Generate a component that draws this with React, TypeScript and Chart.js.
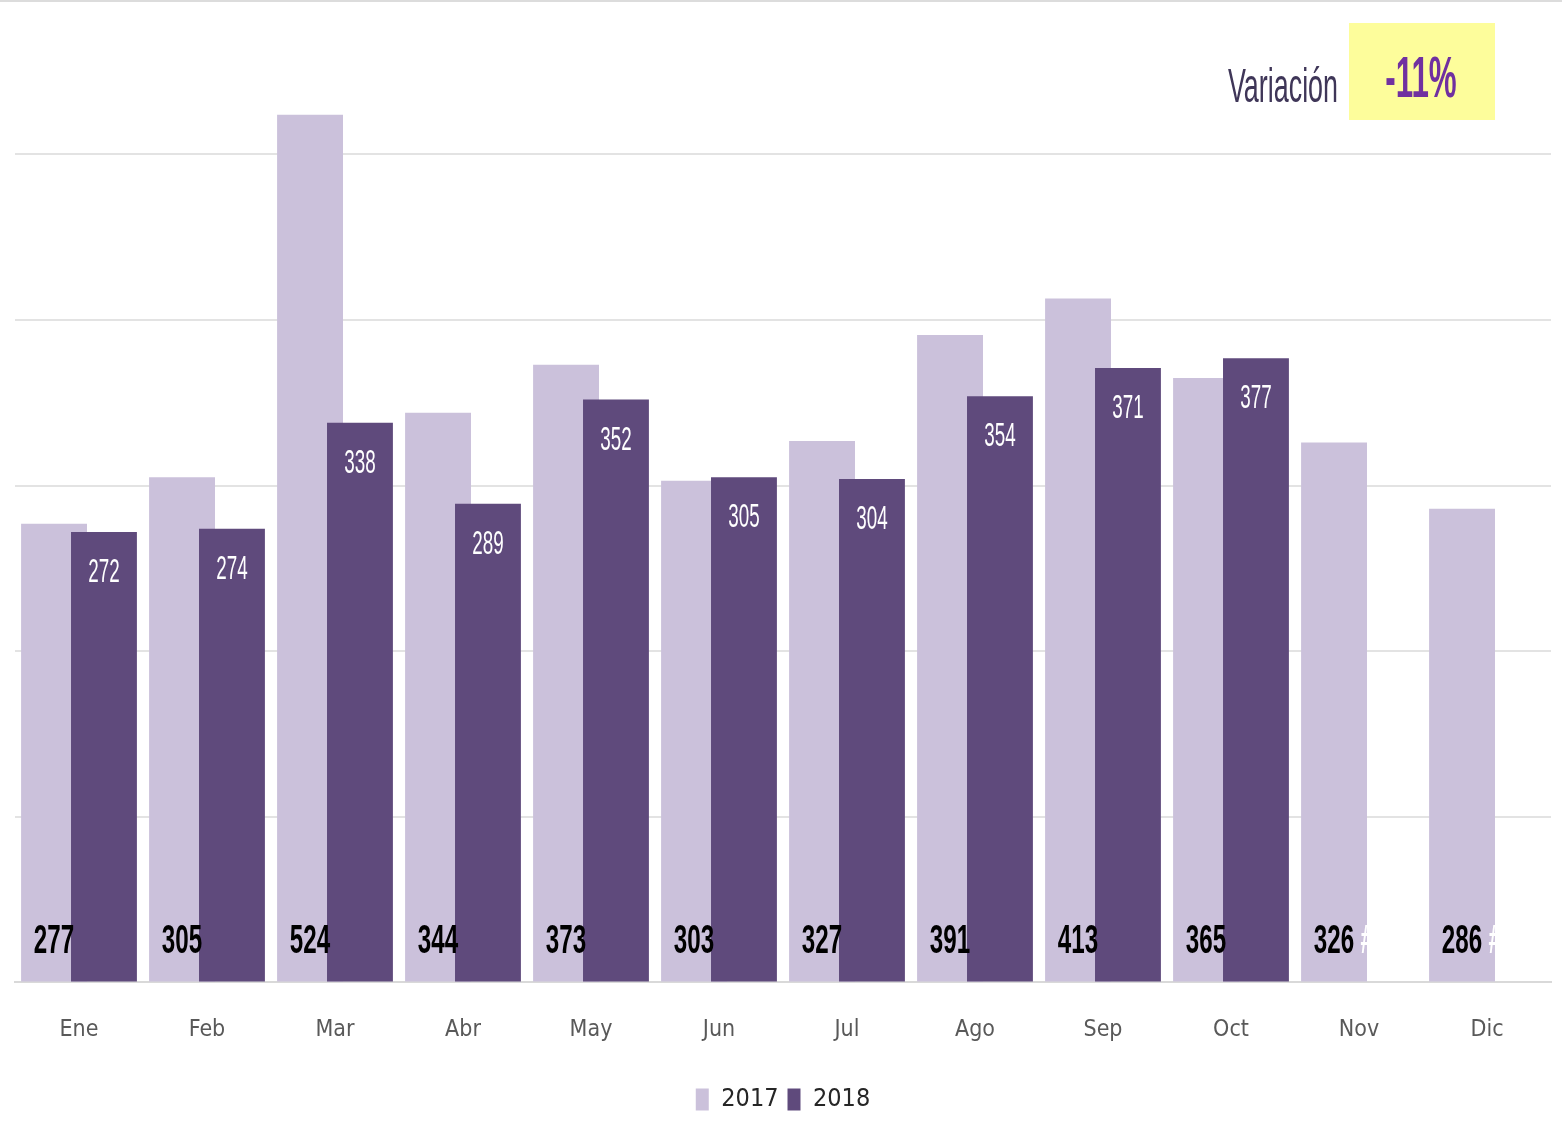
import React, { useEffect, useRef } from 'react';
import { Chart, registerables } from 'chart.js';

Chart.register(...registerables);

const months = ['Ene', 'Feb', 'Mar', 'Abr', 'May', 'Jun', 'Jul', 'Ago', 'Sep', 'Oct', 'Nov', 'Dic'];
const values2017 = [277, 305, 524, 344, 373, 303, 327, 391, 413, 365, 326, 286];
const values2018: (number | null)[] = [272, 274, 338, 289, 352, 305, 304, 354, 371, 377, null, null];
const seriesNames = ['2017', '2018'];
const variationLabel = 'Variación';
const variationValue = '-11%';
const gridTicks = [0, 100, 200, 300, 400, 500];

const COLOR_2017 = '#CBC1DB';
const COLOR_2018 = '#5F4A7C';
const NARROW = '"Liberation Sans Narrow", "DejaVu Sans Condensed", "Liberation Sans", sans-serif';

function drawSquished(ctx: CanvasRenderingContext2D, text: string, x: number, y: number, font: string, color: string, sx: number, align: CanvasTextAlign = 'center', baseline: CanvasTextBaseline = 'middle') {
  ctx.save();
  ctx.font = font;
  ctx.fillStyle = color;
  ctx.textAlign = align;
  ctx.textBaseline = baseline;
  ctx.translate(x, y);
  ctx.scale(sx, 1);
  ctx.fillText(text, 0, 0);
  ctx.restore();
}

// draw 2017 first so that the 2018 bars overlap it (Chart.js draws index 0 last by default)
const overlapPlugin = {
  id: 'overlapOrder',
  beforeDatasetsDraw(chart: any) {
    const meta = chart.getDatasetMeta(0);
    if (meta && meta.controller) meta.controller.draw();
  },
  beforeDatasetDraw(_chart: any, args: any) {
    if (args.index === 0) return false;
    return true;
  },
};

const labelPlugin = {
  id: 'barLabels',
  afterDatasetsDraw(chart: any) {
    const ctx = chart.ctx as CanvasRenderingContext2D;
    const base = chart.scales.y.getPixelForValue(0);
    const m0 = chart.getDatasetMeta(0);
    m0.data.forEach((bar: any, i: number) => {
      drawSquished(ctx, String(values2017[i]), bar.x, base - 41, 'bold 41px "Liberation Sans", Arial, sans-serif', '#000000', 0.59);
    });
    const m1 = chart.getDatasetMeta(1);
    m1.data.forEach((bar: any, i: number) => {
      const v = values2018[i];
      if (v === null || v === undefined) {
        drawSquished(ctx, '#N/A', bar.x + 4, base - 41, 'bold 41px "Liberation Sans", Arial, sans-serif', '#FFFFFF', 0.59);
      } else {
        drawSquished(ctx, String(v), bar.x, bar.y + 41, '33px "Liberation Sans", Arial, sans-serif', '#FFFFFF', 0.57);
      }
    });
  },
};

const variationPlugin = {
  id: 'variation',
  afterDraw(chart: any) {
    const ctx = chart.ctx as CanvasRenderingContext2D;
    ctx.save();
    ctx.fillStyle = '#FDFD9B';
    ctx.fillRect(1349, 21, 146, 97);
    ctx.restore();
    drawSquished(ctx, variationLabel, 1338, 100, '48px "Liberation Sans", Arial, sans-serif', '#3F3658', 0.56, 'right', 'alphabetic');
    drawSquished(ctx, variationValue, 1421, 95, 'bold 58px "Liberation Sans", Arial, sans-serif', '#7030A0', 0.54, 'center', 'alphabetic');
  },
};

export default function App() {
  const ref = useRef<HTMLCanvasElement | null>(null);
  useEffect(() => {
    if (!ref.current) return;
    const chart = new Chart(ref.current, {
      type: 'bar',
      data: {
        labels: months,
        datasets: [
          { label: seriesNames[0], data: values2017, backgroundColor: COLOR_2017, categoryPercentage: 0.78, barPercentage: 1.32 },
          { label: seriesNames[1], data: values2018 as any, backgroundColor: COLOR_2018, categoryPercentage: 0.78, barPercentage: 1.32 },
        ],
      },
      options: {
        animation: false,
        responsive: true,
        maintainAspectRatio: false,
        layout: { padding: { left: 15, right: 11, top: 20, bottom: 0 } },
        plugins: {
          tooltip: { enabled: false },
          legend: {
            position: 'bottom',
            labels: {
              font: { family: NARROW, size: 25 },
              color: '#262626',
              boxWidth: 13,
              boxHeight: 22,
              padding: 9,
            },
          },
        },
        scales: {
          x: {
            grid: { display: false, drawTicks: false },
            border: { display: true, color: '#D9D9D9', width: 2 },
            ticks: { font: { family: NARROW, size: 23 }, color: '#595959', padding: 34 },
          },
          y: {
            min: 0,
            max: 580,
            afterBuildTicks: (scale: any) => {
              scale.ticks = gridTicks.map((v) => ({ value: v }));
            },
            grid: { color: '#E3E3E3', lineWidth: 2, drawTicks: false },
            border: { display: false },
            ticks: { display: false },
          },
        },
      },
      plugins: [overlapPlugin, labelPlugin, variationPlugin],
    });
    return () => chart.destroy();
  }, []);
  return (
    <div style={{ position: 'fixed', left: 0, top: 0, width: 1562, height: 1122, background: '#fff', borderTop: '2px solid #DCDCDC', boxSizing: 'border-box' }}>
      <canvas ref={ref} />
    </div>
  );
}
